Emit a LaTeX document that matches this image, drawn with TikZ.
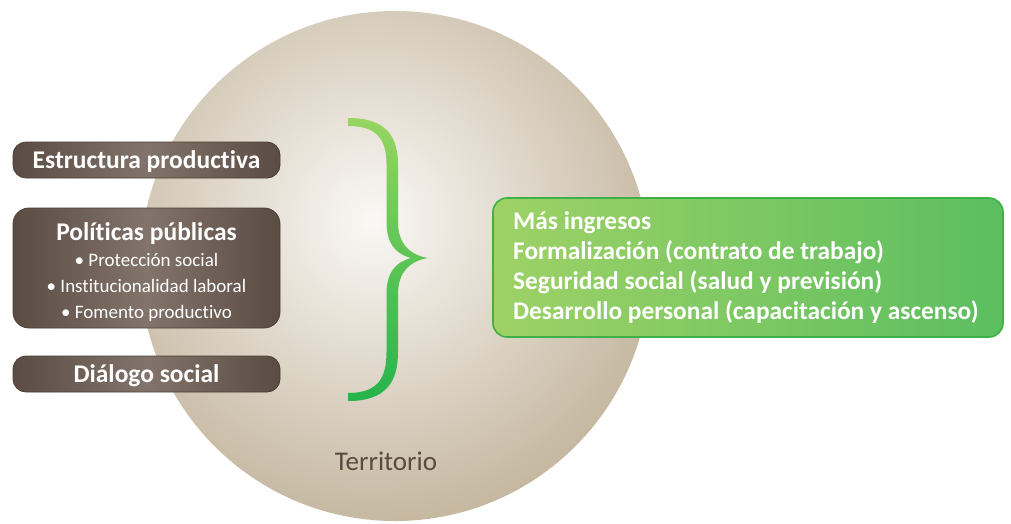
\documentclass[tikz,border=0pt]{standalone}
\usepackage{fontspec}
\setmainfont[Ligatures={NoCommon,NoRequired,NoContextual}]{Carlito}
\begin{document}
\begin{tikzpicture}[x=1pt,y=-1pt,
  brownbox/.style={draw=brownE, line width=0.8pt, rounded corners=13pt,
     left color=brownD, right color=brownD, middle color=brownL,
     minimum width=267pt, inner sep=0pt},
  titletext/.style={text=white, font=\bfseries\fontsize{25.5}{30}\selectfont, inner sep=0pt},
  bullettext/.style={text=white, font=\fontsize{19}{24}\selectfont, inner sep=0pt},
  greentext/.style={text=white, font=\bfseries\fontsize{25.4}{30}\selectfont, inner sep=0pt, anchor=base west}
]
\definecolor{brownD}{RGB}{90,76,67}
\definecolor{brownL}{RGB}{130,116,106}
\definecolor{brownE}{RGB}{75,62,54}
\definecolor{tanE}{RGB}{192,177,152}
\definecolor{tanC}{RGB}{250,248,245}
\definecolor{greenL}{RGB}{158,210,102}
\definecolor{greenD}{RGB}{92,190,96}
\definecolor{greenE}{RGB}{62,176,72}
\definecolor{braceT}{RGB}{150,213,96}
\definecolor{braceB}{RGB}{36,180,76}
\definecolor{terr}{RGB}{88,74,64}

\useasboundingbox (0,0) rectangle (1011,523);
\fill[white] (0,0) rectangle (1011,523);

% circle (territorio)
\begin{scope}
  \clip (395,266) circle (255);
  \shade[inner color=tanC, outer color=tanE] (372,220) circle (335);
\end{scope}

% brace
\shade[top color=braceT, bottom color=braceB]
  (348,118) .. controls (386,118) and (398,136) .. (398,165)
  -- (398,222) .. controls (398,244) and (410,255) .. (428,258)
  .. controls (410,261) and (398,272) .. (398,294)
  -- (398,352) .. controls (398,382) and (386,401) .. (348,401)
  -- (348,393) .. controls (378,393) and (386.5,378) .. (386.5,352)
  -- (386.5,294) .. controls (386.5,272) and (396,262) .. (411,258)
  .. controls (396,254) and (386.5,244) .. (386.5,222)
  -- (386.5,165) .. controls (386.5,140) and (378,126) .. (348,126)
  -- cycle;

% left boxes
\node[brownbox, minimum height=36pt] (ep) at (146.5,160) {};
\node[titletext, anchor=base] (ept) at (146.5,168) {Estructura productiva};

\node[brownbox, minimum height=120pt, rounded corners=16pt] (pp) at (146.5,268) {};
\node[titletext, anchor=base] (ppt) at (146.5,240) {Políticas públicas};
\node[bullettext, anchor=base] (pp1) at (146.5,266) {• Protección social};
\node[bullettext, anchor=base] (pp2) at (146.5,292) {• Institucionalidad laboral};
\node[bullettext, anchor=base] (pp3) at (146.5,318) {• Fomento productivo};

\node[brownbox, minimum height=36pt] (ds) at (146.5,374) {};
\node[titletext, anchor=base] (dst) at (146.5,382) {Diálogo social};

% green box
\node[draw=greenE, line width=1.6pt, rounded corners=14pt,
      shading=axis, shading angle=-70, left color=greenL, right color=greenD,
      minimum width=510pt, minimum height=139pt, inner sep=0pt] (res) at (748,267.5) {};
\node[greentext] (r1) at (513,229) {Más ingresos};
\node[greentext] (r2) at (513,259) {Formalización (contrato de trabajo)};
\node[greentext] (r3) at (513,289) {Seguridad social (salud y previsión)};
\node[greentext] (r4) at (513,319) {Desarrollo personal (capacitación y ascenso)};

% territorio
\node[text=terr, font=\fontsize{27}{30}\selectfont, inner sep=0pt, anchor=base] (terr) at (386,470) {Territorio};
\end{tikzpicture}
\end{document}
